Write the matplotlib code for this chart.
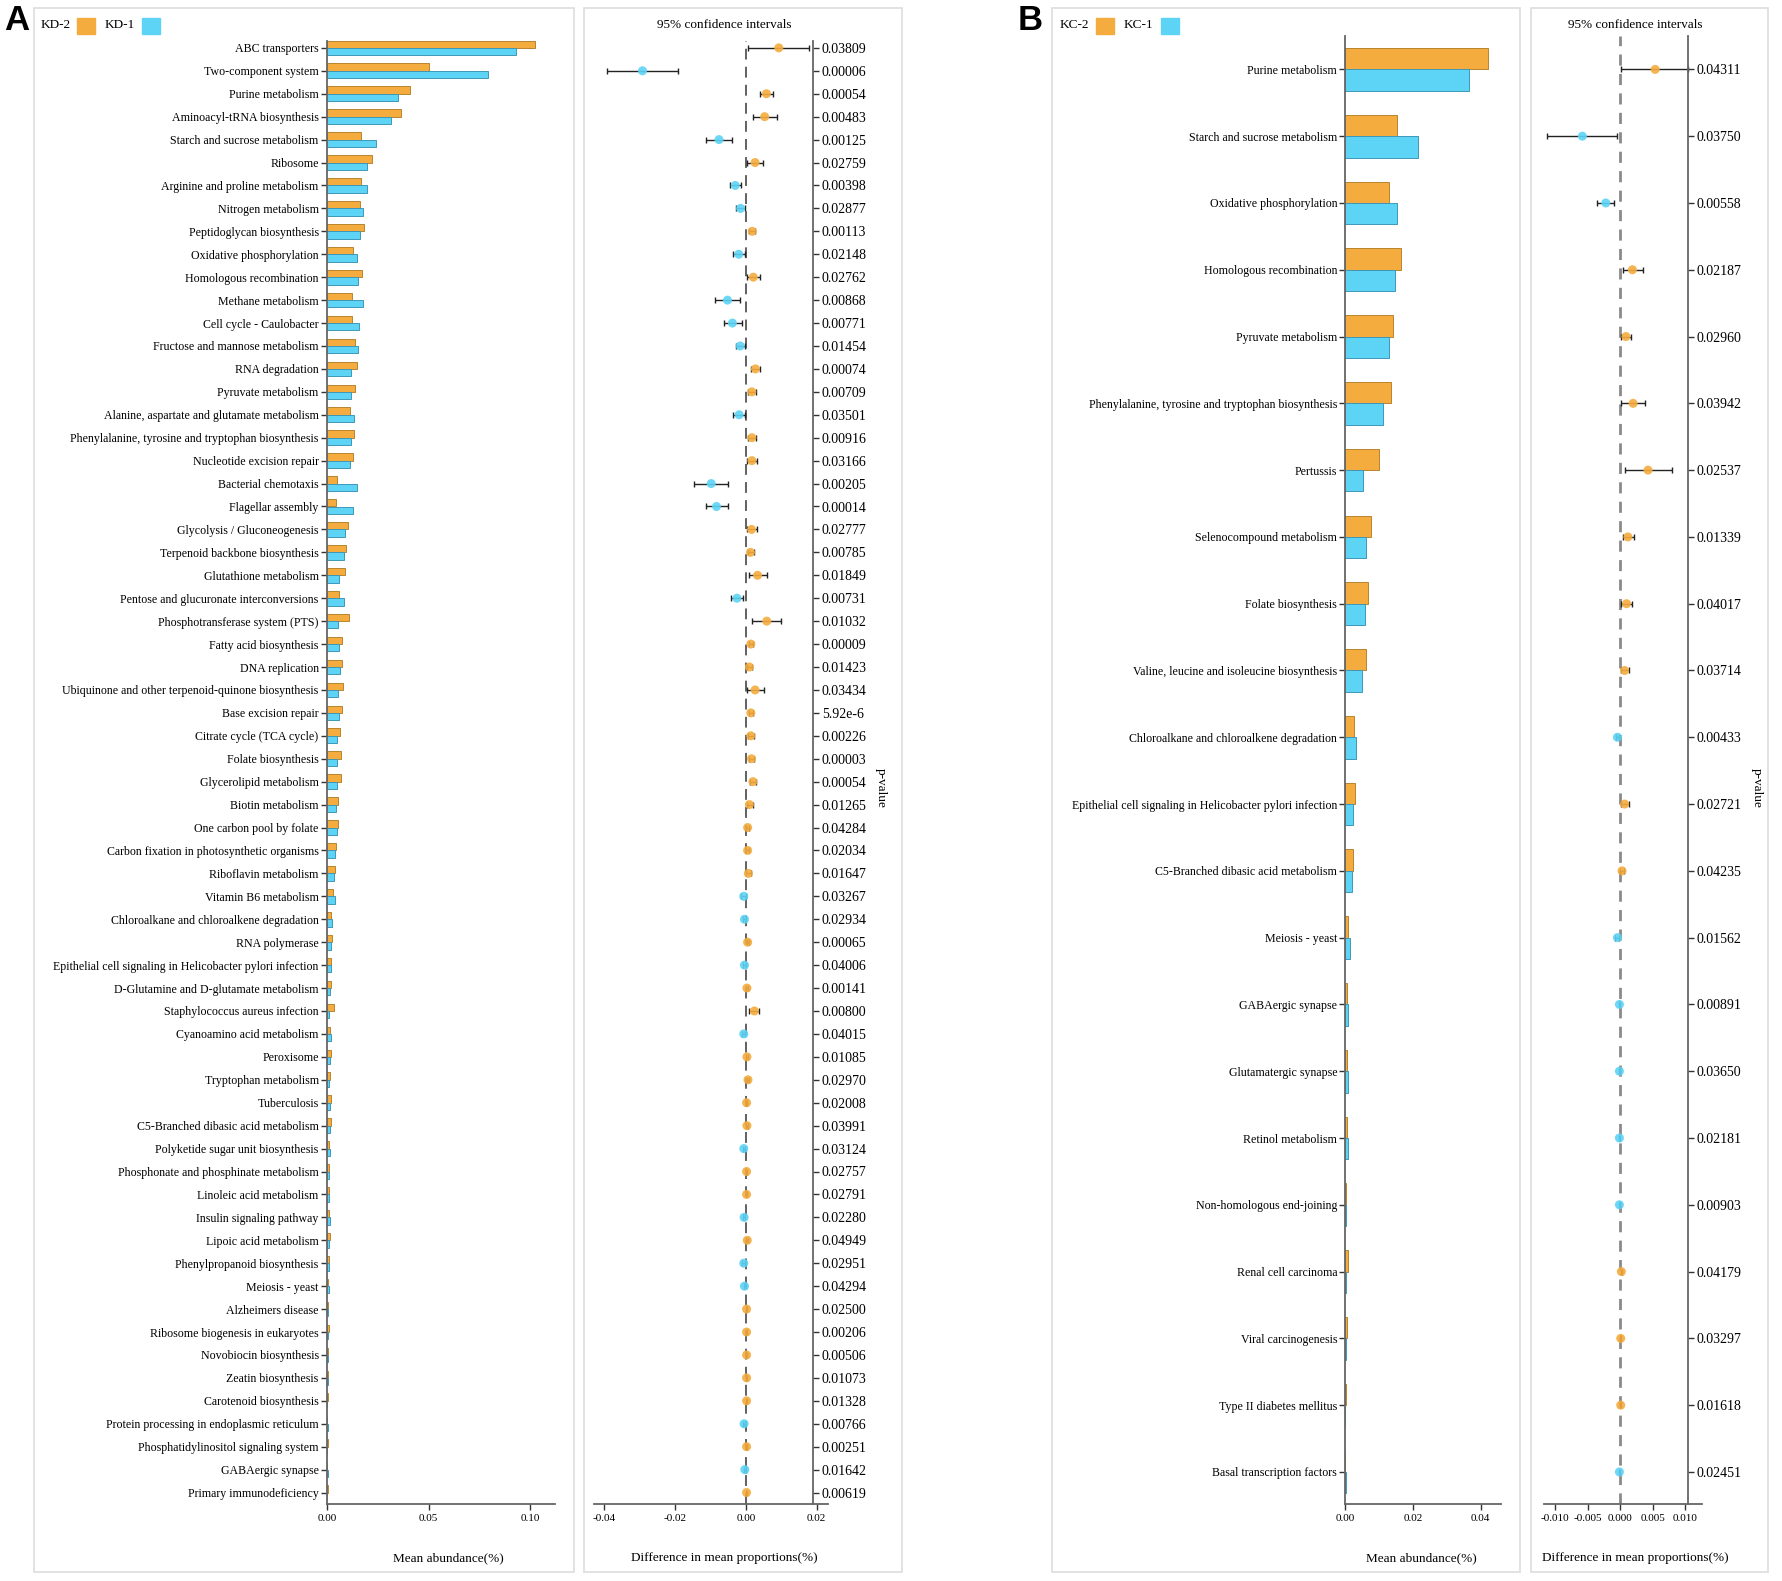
import numpy as np
import matplotlib
matplotlib.use('Agg')
import matplotlib.pyplot as plt
from matplotlib.patches import Rectangle

plt.rcParams['font.family'] = ['Liberation Serif', 'DejaVu Serif']

W, H = 1783, 1581
ORANGE, ORANGE_EDGE = '#F5AC3E', '#B9842E'
BLUE, BLUE_EDGE = '#5DD3F6', '#3E98B8'

# ---------------- panel A data ----------------
a_names = ['ABC transporters', 'Two-component system', 'Purine metabolism', 'Aminoacyl-tRNA biosynthesis',
           'Starch and sucrose metabolism', 'Ribosome', 'Arginine and proline metabolism', 'Nitrogen metabolism',
           'Peptidoglycan biosynthesis', 'Oxidative phosphorylation', 'Homologous recombination',
           'Methane metabolism', 'Cell cycle - Caulobacter', 'Fructose and mannose metabolism',
           'RNA degradation', 'Pyruvate metabolism', 'Alanine, aspartate and glutamate metabolism',
           'Phenylalanine, tyrosine and tryptophan biosynthesis', 'Nucleotide excision repair',
           'Bacterial chemotaxis', 'Flagellar assembly', 'Glycolysis / Gluconeogenesis',
           'Terpenoid backbone biosynthesis', 'Glutathione metabolism',
           'Pentose and glucuronate interconversions', 'Phosphotransferase system (PTS)',
           'Fatty acid biosynthesis', 'DNA replication', 'Ubiquinone and other terpenoid-quinone biosynthesis',
           'Base excision repair', 'Citrate cycle (TCA cycle)', 'Folate biosynthesis', 'Glycerolipid metabolism',
           'Biotin metabolism', 'One carbon pool by folate', 'Carbon fixation in photosynthetic organisms',
           'Riboflavin metabolism', 'Vitamin B6 metabolism', 'Chloroalkane and chloroalkene degradation',
           'RNA polymerase', 'Epithelial cell signaling in Helicobacter pylori infection',
           'D-Glutamine and D-glutamate metabolism', 'Staphylococcus aureus infection',
           'Cyanoamino acid metabolism', 'Peroxisome', 'Tryptophan metabolism', 'Tuberculosis',
           'C5-Branched dibasic acid metabolism', 'Polyketide sugar unit biosynthesis',
           'Phosphonate and phosphinate metabolism', 'Linoleic acid metabolism', 'Insulin signaling pathway',
           'Lipoic acid metabolism', 'Phenylpropanoid biosynthesis', 'Meiosis - yeast', 'Alzheimers disease',
           'Ribosome biogenesis in eukaryotes', 'Novobiocin biosynthesis', 'Zeatin biosynthesis',
           'Carotenoid biosynthesis', 'Protein processing in endoplasmic reticulum',
           'Phosphatidylinositol signaling system', 'GABAergic synapse', 'Primary immunodeficiency']

a_kd2 = [0.1026, 0.0504, 0.0409, 0.0366, 0.0167, 0.0222, 0.0167, 0.0163, 0.0181, 0.0130, 0.0174, 0.0123,
         0.0122, 0.0138, 0.0148, 0.0138, 0.0113, 0.0133, 0.0128, 0.0049, 0.0044, 0.0105, 0.0095, 0.0090,
         0.0059, 0.0110, 0.0072, 0.0072, 0.0079, 0.0072, 0.0062, 0.0067, 0.0067, 0.0054, 0.0054, 0.0044,
         0.0041, 0.0031, 0.0020, 0.0025, 0.0020, 0.0020, 0.0033, 0.0015, 0.0018, 0.0015, 0.0018, 0.0020,
         0.0011, 0.0011, 0.0011, 0.0010, 0.0013, 0.0008, 0.0005, 0.0007, 0.0008, 0.0007, 0.0007, 0.0005,
         0.0002, 0.0007, 0.0002, 0.0003]
a_kd1 = [0.0933, 0.0795, 0.0351, 0.0314, 0.0243, 0.0195, 0.0195, 0.0177, 0.0163, 0.0149, 0.0154, 0.0176,
         0.0159, 0.0153, 0.0118, 0.0118, 0.0133, 0.0118, 0.0113, 0.0148, 0.0128, 0.0090, 0.0084, 0.0059,
         0.0082, 0.0054, 0.0059, 0.0064, 0.0054, 0.0057, 0.0049, 0.0049, 0.0048, 0.0044, 0.0049, 0.0039,
         0.0034, 0.0039, 0.0025, 0.0020, 0.0021, 0.0015, 0.0010, 0.0020, 0.0015, 0.0010, 0.0015, 0.0015,
         0.0016, 0.0008, 0.0008, 0.0015, 0.0008, 0.0011, 0.0010, 0.0005, 0.0005, 0.0003, 0.0003, 0.0002,
         0.0007, 0.0002, 0.0003, 0.0001]

a_diff = [0.0093, -0.0292, 0.0058, 0.0053, -0.0076, 0.0026, -0.0030, -0.0015, 0.0018, -0.0020, 0.0021,
          -0.0052, -0.0038, -0.0016, 0.0027, 0.0017, -0.0019, 0.0017, 0.0017, -0.0098, -0.0083, 0.0016,
          0.0013, 0.0033, -0.0025, 0.0059, 0.0014, 0.0010, 0.0026, 0.0014, 0.0014, 0.0016, 0.0020, 0.0010,
          0.0005, 0.0005, 0.0007, -0.0006, -0.0004, 0.0005, -0.0004, 0.0003, 0.0024, -0.0006, 0.0003,
          0.0006, 0.0002, 0.0003, -0.0006, 0.0002, 0.0002, -0.0005, 0.0004, -0.0006, -0.0004, 0.0002,
          0.0002, 0.0002, 0.0002, 0.0002, -0.0005, 0.0002, -0.0003, 0.0002]
a_low = [0.0006, -0.0391, 0.0039, 0.0020, -0.0114, 0.0002, -0.0045, -0.0028, 0.0010, -0.0037, 0.0002,
         -0.0086, -0.0061, -0.0028, 0.0015, 0.0005, -0.0037, 0.0006, 0.0003, -0.0147, -0.0113, 0.0004,
         0.0006, 0.0009, -0.0041, 0.0017, 0.0008, 0.0003, 0.0003, 0.0009, 0.0006, 0.0010, 0.0011, 0.0002,
         0.0000, 0.0001, 0.0000, -0.0013, -0.0007, 0.0002, -0.0007, 0.0001, 0.0010, -0.0011, 0.0001,
         0.0002, 0.0001, 0.0001, -0.0009, 0.0001, 0.0001, -0.0008, 0.0001, -0.0011, -0.0006, 0.0001,
         0.0001, 0.0001, 0.0001, 0.0001, -0.0008, 0.0001, -0.0005, 0.0001]
a_high = [0.0178, -0.0193, 0.0077, 0.0087, -0.0039, 0.0049, -0.0013, -0.0003, 0.0027, -0.0002, 0.0041,
          -0.0017, -0.0012, -0.0003, 0.0040, 0.0028, -0.0002, 0.0029, 0.0032, -0.0051, -0.0051, 0.0031,
          0.0023, 0.0059, -0.0008, 0.0100, 0.0021, 0.0018, 0.0050, 0.0021, 0.0024, 0.0024, 0.0030, 0.0021,
          0.0010, 0.0009, 0.0015, -0.0001, -0.0001, 0.0008, -0.0001, 0.0005, 0.0037, -0.0002, 0.0005,
          0.0010, 0.0004, 0.0005, -0.0002, 0.0004, 0.0004, -0.0002, 0.0006, -0.0002, -0.0001, 0.0004,
          0.0004, 0.0004, 0.0004, 0.0004, -0.0002, 0.0004, -0.0001, 0.0004]
a_pvals = ['0.03809', '0.00006', '0.00054', '0.00483', '0.00125', '0.02759', '0.00398', '0.02877', '0.00113',
           '0.02148', '0.02762', '0.00868', '0.00771', '0.01454', '0.00074', '0.00709', '0.03501', '0.00916',
           '0.03166', '0.00205', '0.00014', '0.02777', '0.00785', '0.01849', '0.00731', '0.01032', '0.00009',
           '0.01423', '0.03434', '5.92e-6', '0.00226', '0.00003', '0.00054', '0.01265', '0.04284', '0.02034',
           '0.01647', '0.03267', '0.02934', '0.00065', '0.04006', '0.00141', '0.00800', '0.04015', '0.01085',
           '0.02970', '0.02008', '0.03991', '0.03124', '0.02757', '0.02791', '0.02280', '0.04949', '0.02951',
           '0.04294', '0.02500', '0.00206', '0.00506', '0.01073', '0.01328', '0.00766', '0.00251', '0.01642',
           '0.00619']

# ---------------- panel B data ----------------
b_names = ['Purine metabolism', 'Starch and sucrose metabolism', 'Oxidative phosphorylation',
           'Homologous recombination', 'Pyruvate metabolism',
           'Phenylalanine, tyrosine and tryptophan biosynthesis', 'Pertussis', 'Selenocompound metabolism',
           'Folate biosynthesis', 'Valine, leucine and isoleucine biosynthesis',
           'Chloroalkane and chloroalkene degradation',
           'Epithelial cell signaling in Helicobacter pylori infection', 'C5-Branched dibasic acid metabolism',
           'Meiosis - yeast', 'GABAergic synapse', 'Glutamatergic synapse', 'Retinol metabolism',
           'Non-homologous end-joining', 'Renal cell carcinoma', 'Viral carcinogenesis',
           'Type II diabetes mellitus', 'Basal transcription factors']
b_kc2 = [0.0422, 0.0152, 0.0129, 0.0164, 0.0140, 0.0134, 0.0099, 0.0074, 0.0068, 0.0060, 0.0025, 0.0027,
         0.0021, 0.0008, 0.0004, 0.0003, 0.0003, 0.0001, 0.0006, 0.0003, 0.0002, 0.0000]
b_kc1 = [0.0365, 0.0213, 0.0152, 0.0146, 0.0130, 0.0112, 0.0053, 0.0061, 0.0057, 0.0050, 0.0030, 0.0021,
         0.0018, 0.0012, 0.0006, 0.0006, 0.0006, 0.0002, 0.0001, 0.0001, 0.0000, 0.0002]
b_diff = [0.0054, -0.0058, -0.0022, 0.0019, 0.0009, 0.0020, 0.0043, 0.0012, 0.0010, 0.0007, -0.0004,
          0.0007, 0.0003, -0.0004, -0.0001, -0.0001, -0.0001, -0.0001, 0.0002, 0.0001, 0.0001, -0.0001]
b_low = [0.0002, -0.0112, -0.0036, 0.0004, 0.0002, 0.0001, 0.0007, 0.0004, 0.0001, 0.0001, -0.0007,
         0.0002, 0.0000, -0.0008, -0.0002, -0.0002, -0.0002, -0.0002, 0.0001, 0.00005, 0.00005, -0.0002]
b_high = [0.0105, -0.0004, -0.0009, 0.0035, 0.0017, 0.0038, 0.0080, 0.0022, 0.0019, 0.0014, -0.0001,
          0.0013, 0.0006, -0.0001, -0.00005, -0.00005, -0.00005, -0.00005, 0.0003, 0.0002, 0.0002, -0.00005]
b_pvals = ['0.04311', '0.03750', '0.00558', '0.02187', '0.02960', '0.03942', '0.02537', '0.01339', '0.04017',
           '0.03714', '0.00433', '0.02721', '0.04235', '0.01562', '0.00891', '0.03650', '0.02181', '0.00903',
           '0.04179', '0.03297', '0.01618', '0.02451']


def rect(x0, y0, x1, y1):
    # pixel box (top-left origin) -> figure fraction
    return [x0 / W, 1 - y1 / H, (x1 - x0) / W, (y1 - y0) / H]


def box(fig, x0, y0, x1, y1):
    r = rect(x0, y0, x1, y1)
    fig.patches.append(Rectangle((r[0], r[1]), r[2], r[3], transform=fig.transFigure,
                                 fill=False, edgecolor='#dddddd', lw=1.2))


def bar_panel(ax, names, g2, g1, ylim, xlim, xticks, xticklabels):
    y = np.arange(len(names))
    h = 0.32
    ax.barh(y - h / 2, g2, height=h, color=ORANGE, edgecolor=ORANGE_EDGE, lw=0.7)
    ax.barh(y + h / 2, g1, height=h, color=BLUE, edgecolor=BLUE_EDGE, lw=0.7)
    ax.set_ylim(*ylim)
    ax.set_xlim(*xlim)
    ax.set_yticks(y)
    ax.set_yticklabels(names, fontsize=8.6)
    ax.set_xticks(xticks)
    ax.set_xticklabels(xticklabels, fontsize=8)
    for s in ['top', 'right']:
        ax.spines[s].set_visible(False)
    for s in ['left', 'bottom']:
        ax.spines[s].set_color('#666666')
        ax.spines[s].set_linewidth(1.3)
    ax.tick_params(axis='y', length=4, width=1, pad=2, color='#333333')
    ax.tick_params(axis='x', length=4, width=1, pad=3, color='#333333')


def ci_panel(ax, diff, low, high, pvals, ylim, xlim, spine_x, xticks, xticklabels, dash_color, dash_lw, dashes):
    y = np.arange(len(diff))
    diff = np.array(diff)
    low = np.array(low)
    high = np.array(high)
    ax.axvline(0, color=dash_color, lw=dash_lw, dashes=dashes, zorder=1)
    ax.errorbar(diff, y, xerr=[diff - low, high - diff], fmt='none', ecolor='#222222',
                elinewidth=1, capsize=2.2, capthick=1, zorder=2)
    cols = [ORANGE if d > 0 else BLUE for d in diff]
    ax.scatter(diff, y, s=42, c=cols, alpha=0.9, edgecolors='none', zorder=3)
    ax.set_ylim(*ylim)
    ax.set_xlim(*xlim)
    ax.set_xticks(xticks)
    ax.set_xticklabels(xticklabels, fontsize=8)
    ax.yaxis.tick_right()
    ax.set_yticks(y)
    ax.set_yticklabels(pvals, fontsize=8.6)
    ax.spines['top'].set_visible(False)
    ax.spines['left'].set_visible(False)
    ax.spines['right'].set_position(('data', spine_x))
    for s in ['right', 'bottom']:
        ax.spines[s].set_color('#666666')
        ax.spines[s].set_linewidth(1.3)
    ax.tick_params(axis='y', length=4, width=1, pad=2, color='#333333')
    ax.tick_params(axis='x', length=4, width=1, pad=3, color='#333333')


fig = plt.figure(figsize=(W / 100, H / 100), dpi=100)

# panel frames
box(fig, 34, 8, 574, 1572)
box(fig, 584, 8, 902, 1572)
box(fig, 1052, 8, 1520, 1572)
box(fig, 1531, 8, 1768, 1572)

# ---- A ----
axA = fig.add_axes(rect(327, 41, 555, 1504))
bar_panel(axA, a_names, a_kd2, a_kd1, (63.5, -0.3), (0, 0.1123),
          [0, 0.05, 0.10], ['0.00', '0.05', '0.10'])
axAci = fig.add_axes(rect(594, 41, 828, 1504))
ci_panel(axAci, a_diff, a_low, a_high, a_pvals, (63.5, -0.3), (-0.0429, 0.0232), 0.0191,
         [-0.04, -0.02, 0.0, 0.02], ['-0.04', '-0.02', '0.00', '0.02'], '#555555', 1.3, (6, 4))

# ---- B ----
axB = fig.add_axes(rect(1345.5, 36, 1501, 1504))
bar_panel(axB, b_names, b_kc2, b_kc1, (21.48, -0.5), (0, 0.046),
          [0, 0.02, 0.04], ['0.00', '0.02', '0.04'])
axBci = fig.add_axes(rect(1544, 36, 1702, 1504))
ci_panel(axBci, b_diff, b_low, b_high, b_pvals, (21.48, -0.5), (-0.0117, 0.0126), 0.0104,
         [-0.010, -0.005, 0.0, 0.005, 0.010], ['-0.010', '-0.005', '0.000', '0.005', '0.010'],
         '#8a8a8a', 2.0, (4, 3))

# titles / labels
def ftext(px, py, s, **kw):
    fig.text(px / W, 1 - py / H, s, **kw)

for cx, px_label, title_x in [(448, 724, 724), (1421, 1635, 1635)]:
    ftext(cx, 1558, 'Mean abundance(%)', ha='center', va='center', fontsize=9.5)
    ftext(px_label, 1558, 'Difference in mean proportions(%)', ha='center', va='center', fontsize=9.5)
    ftext(title_x, 25, '95% confidence intervals', ha='center', va='center', fontsize=9.5)
ftext(881, 788, 'p-value', ha='center', va='center', fontsize=9.5, rotation=-90)
ftext(1757, 788, 'p-value', ha='center', va='center', fontsize=9.5, rotation=-90)

# panel letters
ftext(17, 21, 'A', ha='center', va='center', fontsize=25, fontweight='bold', family='Liberation Sans')
ftext(1030, 21, 'B', ha='center', va='center', fontsize=25, fontweight='bold', family='Liberation Sans')

# legends
for x0, lab2, lab1 in [(41, 'KD-2', 'KD-1'), (1060, 'KC-2', 'KC-1')]:
    ftext(x0, 25, lab2, ha='left', va='center', fontsize=9.5)
    r = rect(x0 + 36, 18, x0 + 54, 34)
    fig.patches.append(Rectangle((r[0], r[1]), r[2], r[3], transform=fig.transFigure, color=ORANGE))
    ftext(x0 + 64, 25, lab1, ha='left', va='center', fontsize=9.5)
    r = rect(x0 + 101, 18, x0 + 119, 34)
    fig.patches.append(Rectangle((r[0], r[1]), r[2], r[3], transform=fig.transFigure, color=BLUE))

fig.savefig('out.png', dpi=100)
